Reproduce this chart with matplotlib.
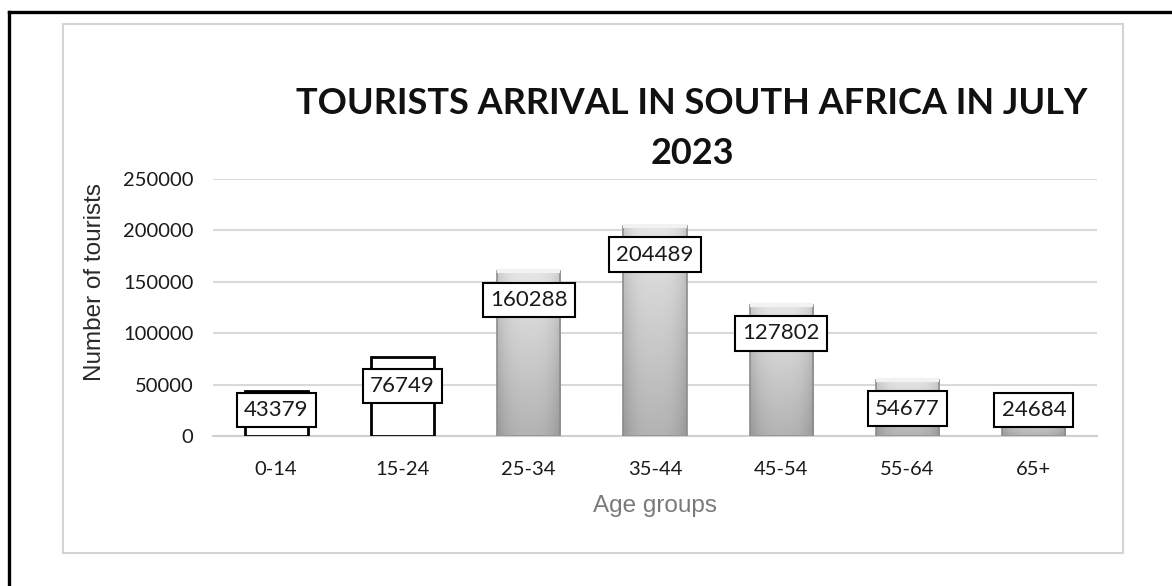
import numpy as np
import matplotlib
matplotlib.use("Agg")
import matplotlib.pyplot as plt
from matplotlib.patches import Rectangle
from matplotlib.lines import Line2D

age_groups = ["0-14", "15-24", "25-34", "35-44", "45-54", "55-64", "65+"]
tourists = [43379, 76749, 160288, 204489, 127802, 54677, 24684]
y_ticks = [0, 50000, 100000, 150000, 200000, 250000]

fig = plt.figure(figsize=(11.72, 5.86), dpi=100)
fig.patch.set_facecolor("white")

# outer black frame (only left and top visible) and light chart box
fig.add_artist(Line2D([9 / 1172, 9 / 1172], [0, 1 - 12 / 586], color="black", lw=2.4))
fig.add_artist(Line2D([9 / 1172, 1], [1 - 12 / 586, 1 - 12 / 586], color="black", lw=2.4))
fig.add_artist(Rectangle((63 / 1172, 1 - 553 / 586), (1123 - 63) / 1172, (553 - 24) / 586,
                         transform=fig.transFigure, fill=False, ec="#d4d4d4", lw=1.5))

ax = fig.add_axes([213 / 1172, 150 / 586, 884 / 1172, 257 / 586])
x = np.arange(len(age_groups))
bars = ax.bar(x, tourists, width=0.5, color="none", edgecolor="#8c8c8c", lw=1.2, zorder=3)

# gradient fill for the bars, first two look washed out to white in the scan
grad = np.linspace(0.9, 0.7, 100).reshape(-1, 1)
grad = np.repeat(grad, 20, axis=1)
edge = np.abs(np.linspace(-1, 1, 20))
grad = grad - 0.1 * edge ** 3
for i, b in enumerate(bars):
    x0, w, h = b.get_x(), b.get_width(), b.get_height()
    if i < 2:
        b.set_facecolor("white")
        b.set_edgecolor("black")
        b.set_linewidth(2)
        continue
    im = ax.imshow(grad, cmap="gray", vmin=0, vmax=1, aspect="auto",
                   extent=(x0, x0 + w, 0, h), zorder=2, interpolation="bilinear")
    im.set_clip_path(b)
    ax.plot([x0, x0 + w], [h, h], color="#f2f2f2", lw=3, zorder=4, solid_capstyle="butt")

for xi, v in zip(x, tourists):
    ax.text(xi, max(v - 28000, 25000), str(v), ha="center", va="center",
            fontsize=16, family="Lato", color="#1a1a1a", zorder=5,
            bbox=dict(boxstyle="square,pad=0.32", fc="white", ec="black", lw=1.5))

ax.set_xlim(-0.5, len(age_groups) - 0.5)
ax.set_ylim(0, 250000)
ax.set_yticks(y_ticks)
ax.set_xticks(x)
ax.set_xticklabels(age_groups, fontsize=14.5, family="Lato", color="#1a1a1a")
ax.set_yticklabels([str(t) for t in y_ticks], fontsize=14.5, family="Lato", color="#1a1a1a")
ax.tick_params(length=0, pad=14)
ax.tick_params(axis="x", pad=18)
ax.grid(axis="y", color="#d9d9d9", lw=1.5, zorder=0)
ax.set_axisbelow(True)
for s in ["top", "right", "left"]:
    ax.spines[s].set_visible(False)
ax.spines["bottom"].set_color("#d0d0d0")
ax.spines["bottom"].set_linewidth(1.5)

ax.set_xlabel("Age groups", fontsize=17.5, family="Liberation Sans", color="#7a7a7a", labelpad=12)
fig.text(95 / 1172, 1 - 282 / 586, "Number of tourists", rotation=90, ha="center", va="center",
         fontsize=17.5, family="Liberation Sans", color="#2a2a2a")

fig.text(692 / 1172, 1 - 103 / 586, "TOURISTS ARRIVAL IN SOUTH AFRICA IN JULY", ha="center",
         va="center", fontsize=26, family="Lato", fontweight="bold", color="#111111")
fig.text(692 / 1172, 1 - 154 / 586, "2023", ha="center", va="center",
         fontsize=26, family="Lato", fontweight="bold", color="#111111")

fig.savefig("out.png", dpi=100)
